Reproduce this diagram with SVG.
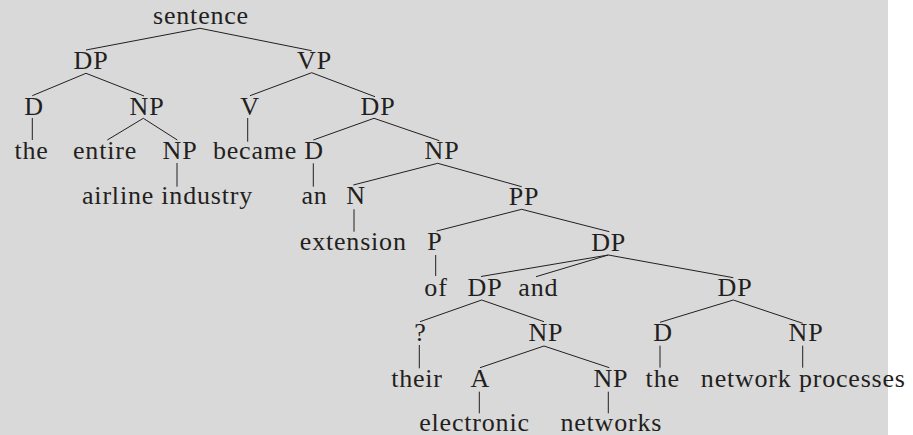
<svg xmlns="http://www.w3.org/2000/svg" width="913" height="435" viewBox="0 0 913 435">
<style>
text{font-family:"Liberation Serif","DejaVu Serif",serif;font-size:26px;letter-spacing:0.8px;fill:#231f20;text-anchor:middle}
.c line{stroke:#231f20;stroke-width:1}
</style>
<rect x="0" y="0" width="913" height="435" fill="#ffffff"/>
<rect x="0" y="0" width="888" height="435" fill="#d9d9d9"/>
<g class="c" id="connectors">
<line x1="200" y1="28.3" x2="86" y2="50"/>
<line x1="200" y1="28.3" x2="311.7" y2="50.7"/>
<line x1="86" y1="73.3" x2="32.3" y2="95.7"/>
<line x1="86" y1="73.3" x2="144" y2="96"/>
<line x1="32.3" y1="118" x2="32.3" y2="140"/>
<line x1="143.3" y1="118.3" x2="107.3" y2="140"/>
<line x1="143.3" y1="118.3" x2="177.3" y2="140"/>
<line x1="177" y1="163" x2="177" y2="186.7"/>
<line x1="311.7" y1="72.7" x2="250" y2="95.7"/>
<line x1="311.7" y1="72.7" x2="375" y2="96.7"/>
<line x1="247.7" y1="118" x2="247.7" y2="141.7"/>
<line x1="374" y1="118.3" x2="313.3" y2="140"/>
<line x1="374" y1="118.3" x2="439.3" y2="140.7"/>
<line x1="313.3" y1="163.3" x2="313.3" y2="186.7"/>
<line x1="437.7" y1="163.3" x2="353.3" y2="185"/>
<line x1="437.7" y1="163.3" x2="521.7" y2="186.7"/>
<line x1="354" y1="209.3" x2="354" y2="231.7"/>
<line x1="521.7" y1="209.3" x2="436.7" y2="231"/>
<line x1="521.7" y1="209.3" x2="609.3" y2="231.7"/>
<line x1="435.7" y1="255" x2="435.7" y2="276"/>
<line x1="608.3" y1="255" x2="481" y2="276.5"/>
<line x1="608.3" y1="255" x2="536" y2="276.7"/>
<line x1="608.3" y1="255" x2="733.3" y2="277.7"/>
<line x1="481.7" y1="300" x2="420" y2="321.7"/>
<line x1="481.7" y1="300" x2="544" y2="321.7"/>
<line x1="419.3" y1="345" x2="419.3" y2="368.3"/>
<line x1="544" y1="346" x2="480" y2="367.7"/>
<line x1="544" y1="346" x2="609.3" y2="367.7"/>
<line x1="479.3" y1="391.7" x2="479.3" y2="413.3"/>
<line x1="608.3" y1="391.7" x2="608.3" y2="413.3"/>
<line x1="733.3" y1="300" x2="660" y2="322.3"/>
<line x1="733.3" y1="300" x2="802.7" y2="323.3"/>
<line x1="660" y1="345.7" x2="660" y2="367.7"/>
<line x1="802.7" y1="345.7" x2="802.7" y2="367.7"/>
</g>
<g id="n-sentence"><text x="201" y="24">sentence</text></g>
<g id="n-dp1"><text x="91" y="69">DP</text></g>
<g id="n-vp"><text x="314.5" y="69">VP</text></g>
<g id="n-d1"><text x="34" y="115">D</text></g>
<g id="n-np1"><text x="147" y="115">NP</text></g>
<g id="n-v"><text x="250" y="115">V</text></g>
<g id="n-dp2"><text x="378" y="115">DP</text></g>
<g id="n-the1"><text x="31.5" y="159">the</text></g>
<g id="n-entire"><text x="105" y="159">entire</text></g>
<g id="n-np2"><text x="180" y="159">NP</text></g>
<g id="n-became"><text x="255" y="159">became</text></g>
<g id="n-d2"><text x="314" y="159">D</text></g>
<g id="n-np3"><text x="442" y="159">NP</text></g>
<g id="n-airline"><text x="167.5" y="204">airline industry</text></g>
<g id="n-an"><text x="314.5" y="204">an</text></g>
<g id="n-n"><text x="356" y="204">N</text></g>
<g id="n-pp"><text x="524" y="204.5">PP</text></g>
<g id="n-extension"><text x="353.3" y="250">extension</text></g>
<g id="n-p"><text x="435" y="250">P</text></g>
<g id="n-dp3"><text x="608.7" y="250.5">DP</text></g>
<g id="n-of"><text x="436" y="295.5">of</text></g>
<g id="n-dp4"><text x="485" y="296">DP</text></g>
<g id="n-and"><text x="538.3" y="296">and</text></g>
<g id="n-dp5"><text x="735" y="296">DP</text></g>
<g id="n-q"><text x="420.5" y="341">?</text></g>
<g id="n-np4"><text x="545.8" y="341">NP</text></g>
<g id="n-d3"><text x="663" y="341">D</text></g>
<g id="n-np5"><text x="806" y="341">NP</text></g>
<g id="n-their"><text x="417" y="386.7">their</text></g>
<g id="n-a"><text x="480.3" y="386.7">A</text></g>
<g id="n-np6"><text x="610.8" y="386.7">NP</text></g>
<g id="n-the2"><text x="662.7" y="386.7">the</text></g>
<g id="n-netproc"><text x="803.3" y="386.7">network processes</text></g>
<g id="n-electronic"><text x="474.5" y="430.5">electronic</text></g>
<g id="n-networks"><text x="611.3" y="430.5">networks</text></g>
</svg>
